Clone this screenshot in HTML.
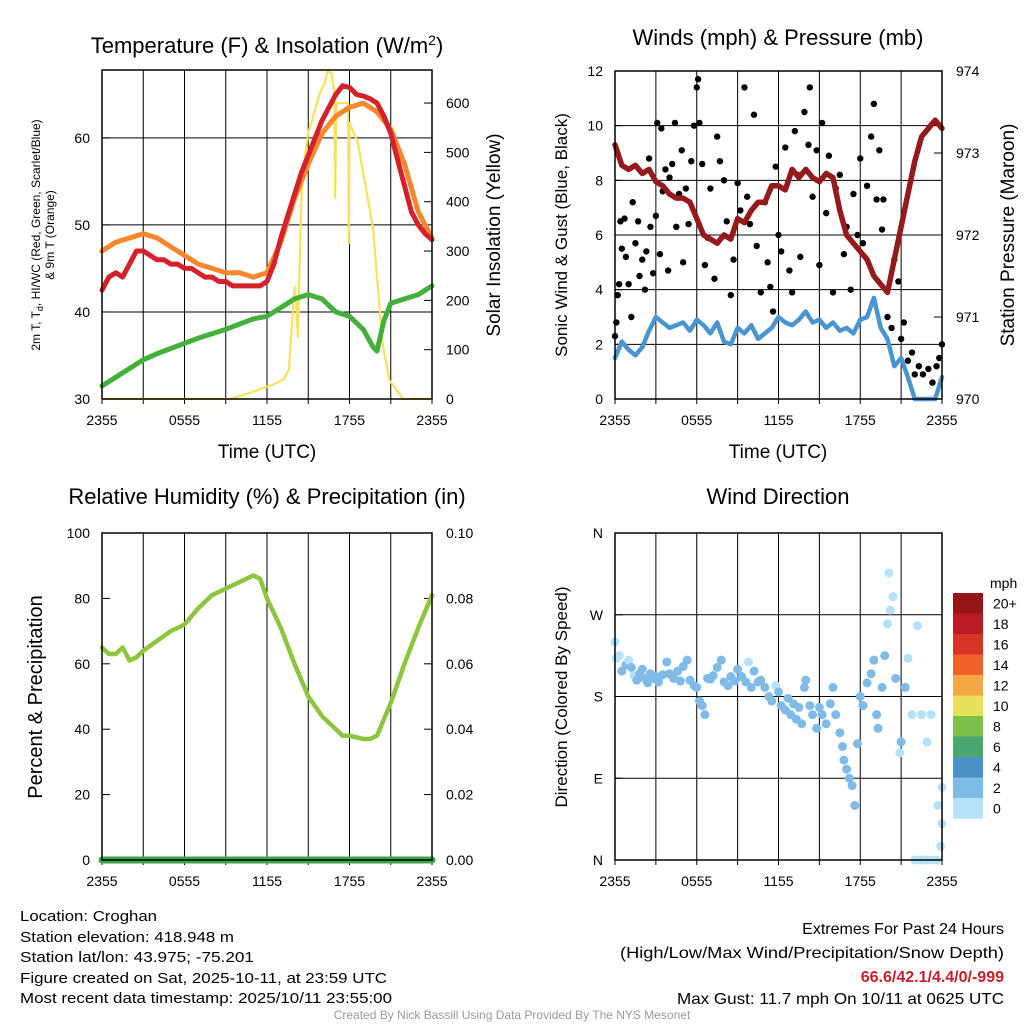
<!DOCTYPE html>
<html><head><meta charset="utf-8"><style>
html,body{margin:0;padding:0;background:#fff;}
svg{display:block;font-family:"Liberation Sans",sans-serif;}
</style></head><body>
<svg id="chart" width="1024" height="1024" viewBox="0 0 1024 1024" xmlns="http://www.w3.org/2000/svg">
<rect width="1024" height="1024" fill="#fff"/>
<g id="p1"></g>
<g id="p2"></g>
<g id="p3"></g>
<g id="p4"></g>

<text x="267" y="53" font-size="22" text-anchor="middle">Temperature (F) &amp; Insolation (W/m<tspan dy="-8" font-size="14">2</tspan><tspan dy="8">)</tspan></text>
<text x="778" y="45" font-size="22" text-anchor="middle">Winds (mph) &amp; Pressure (mb)</text>
<text x="267" y="504" font-size="22" text-anchor="middle">Relative Humidity (%) &amp; Precipitation (in)</text>
<text x="778" y="504" font-size="22" text-anchor="middle">Wind Direction</text>

<text transform="translate(40,235) rotate(-90)" font-size="12" text-anchor="middle">2m T, T<tspan dy="3" font-size="9">d</tspan><tspan dy="-3">, HI/WC (Red, Green, Scarlet/Blue)</tspan></text>
<text transform="translate(54,235) rotate(-90)" font-size="12" text-anchor="middle">&amp; 9m T (Orange)</text>
<text transform="translate(500,235) rotate(-90)" font-size="19" text-anchor="middle">Solar Insolation (Yellow)</text>
<text transform="translate(567,235) rotate(-90)" font-size="17" text-anchor="middle">Sonic Wind &amp; Gust (Blue, Black)</text>
<text transform="translate(1014,235) rotate(-90)" font-size="19" text-anchor="middle">Station Pressure (Maroon)</text>
<text transform="translate(42,697) rotate(-90)" font-size="20" text-anchor="middle">Percent &amp; Precipitation</text>
<text transform="translate(567,697) rotate(-90)" font-size="17" text-anchor="middle">Direction (Colored By Speed)</text>
<text x="267" y="458" font-size="19" text-anchor="middle">Time (UTC)</text>
<text x="778" y="458" font-size="19" text-anchor="middle">Time (UTC)</text>

<g font-size="15">
<text x="20" y="921" textLength="137" lengthAdjust="spacingAndGlyphs">Location: Croghan</text>
<text x="20" y="942" textLength="214" lengthAdjust="spacingAndGlyphs">Station elevation: 418.948 m</text>
<text x="20" y="962" textLength="234" lengthAdjust="spacingAndGlyphs">Station lat/lon: 43.975; -75.201</text>
<text x="20" y="983" textLength="367" lengthAdjust="spacingAndGlyphs">Figure created on Sat, 2025-10-11, at 23:59 UTC</text>
<text x="20" y="1003" textLength="372" lengthAdjust="spacingAndGlyphs">Most recent data timestamp: 2025/10/11 23:55:00</text>
</g>
<g font-size="16" text-anchor="end">
<text x="1004" y="934">Extremes For Past 24 Hours</text>
<text x="1004" y="958" textLength="384" lengthAdjust="spacingAndGlyphs">(High/Low/Max Wind/Precipitation/Snow Depth)</text>
<text x="1004" y="982" fill="#c8202a" font-weight="bold">66.6/42.1/4.4/0/-999</text>
<text x="1004" y="1004" textLength="327" lengthAdjust="spacingAndGlyphs">Max Gust: 11.7 mph On 10/11 at 0625 UTC</text>
</g>
<text x="512" y="1019" font-size="12" fill="#999" text-anchor="middle">Created By Nick Bassill Using Data Provided By The NYS Mesonet</text>
</svg>
<script>
// ---- data ----
const xTickLabels = ["2355","0555","1155","1755","2355"];
const tempHours = [0,0.5,1,1.5,2,2.5,3,3.5,4,4.5,5,5.5,6,6.5,7,7.5,8,8.5,9,9.5,10,10.5,11,11.5,12,12.5,13,13.5,14,14.5,15,15.5,16,16.5,17,17.5,18,18.5,19,19.5,20,20.5,21,21.5,22,22.5,23,23.5,24];
const tempF = [42.5,44,44.5,44,45.5,47,47,46.5,46,46,45.5,45.5,45,45,44.5,44,44,43.5,43.5,43,43,43,43,43,43.5,45.5,48.5,51,53.5,56,58,60,62,63.5,65,66,65.8,65,64.8,64.5,64,62.5,60.5,57.5,54.5,51.5,50,49,48.3];
const hourly = [0,1,2,3,4,5,6,7,8,9,10,11,12,13,14,15,16,17,18,19,20,21,22,23,24];
const temp9m = [47,48,48.5,49,48.5,47.5,46.5,45.5,45,44.5,44.5,44,44.5,48,53,57,60.5,62.5,63.5,64,63,61,57,51.5,48.5];
const dewHours = [0,1,2,3,4,5,6,7,8,9,10,11,12,13,14,15,16,17,18,19,19.7,20,20.5,21,22,23,24];
const dewF = [31.5,32.5,33.5,34.5,35.2,35.8,36.4,37,37.5,38,38.6,39.2,39.5,40.5,41.5,42,41.5,40,39.5,38,36,35.5,39,41,41.5,42,43];
const solarHours = [0,9.3,10.5,11.5,12.5,13.2,13.6,13.8,14.0,14.1,14.25,14.4,14.55,15.0,15.85,16.2,16.4,16.7,16.9,16.95,17.05,17.2,17.9,17.95,18.0,18.6,19.7,20.4,20.9,21.9,24];
const solarW = [0,0,10,20,30,40,60,150,227,200,126,300,450,540,620,640,665,660,620,408,600,600,600,316,560,520,349,113,38,0,0];
const windHours = [0,0.5,1,1.5,2,2.5,3,3.5,4,4.5,5,5.5,6,6.5,7,7.5,8,8.5,9,9.5,10,10.5,11,11.5,12,12.5,13,13.5,14,14.5,15,15.5,16,16.5,17,17.5,18,18.5,19,19.5,20,20.5,21,21.5,22,22.5,23,23.5,24];
const windMph = [1.5,2.1,1.8,1.6,1.9,2.5,3.0,2.8,2.6,2.7,2.8,2.5,2.9,2.7,2.4,2.8,2.1,2.0,2.6,2.4,2.7,2.2,2.4,2.6,3.0,2.8,2.7,2.9,3.2,2.8,2.9,2.6,2.8,2.5,2.6,2.4,2.9,3.0,3.7,2.6,2.2,1.2,1.5,0.8,0.0,0.0,0.0,0.0,0.8];
const pressMb = [973.1,972.85,972.8,972.85,972.75,972.8,972.65,972.6,972.5,972.45,972.45,972.4,972.2,972.0,971.95,971.9,972.0,971.95,972.2,972.15,972.3,972.4,972.4,972.6,972.6,972.55,972.8,972.7,972.8,972.7,972.65,972.75,972.7,972.3,972.0,971.9,971.8,971.7,971.5,971.4,971.3,971.7,972.1,972.5,972.9,973.2,973.3,973.4,973.3];
const gustHours = [0,0.1,0.2,0.3,0.4,0.5,0.7,0.8,1,1.2,1.3,1.5,1.7,1.8,2,2.2,2.3,2.5,2.6,2.8,3,3.1,3.3,3.4,3.5,3.7,3.9,4,4.2,4.4,4.5,4.7,4.9,5,5.2,5.4,5.6,5.8,6,6.1,6.2,6.4,6.6,6.8,7,7.3,7.5,7.7,8,8.2,8.5,8.7,9,9.2,9.5,9.7,9.9,10.2,10.4,10.7,11,11.2,11.4,11.6,11.8,12,12.2,12.5,12.8,13,13.2,13.4,13.6,13.9,14.2,14.3,14.5,14.8,15,15.2,15.5,15.7,16,16.2,16.5,16.8,17,17.3,17.5,17.8,18,18.2,18.5,18.8,19,19.2,19.4,19.6,19.7,20,20.3,20.5,20.8,21,21.2,21.5,21.8,22,22.3,22.6,23,23.3,23.6,23.8,24];
const gustMph = [2.3,2.8,3.8,4.2,6.5,5.5,6.6,5.2,4.2,3.0,7.2,5.7,6.5,4.5,5.1,4.0,5.4,8.8,6.3,4.6,6.7,10.1,5.3,9.9,7.6,8.4,4.7,8.1,8.6,10.1,6.3,7.5,9.1,5.0,7.7,6.4,8.7,10.0,11.4,11.7,10.1,8.6,4.9,5.9,7.7,4.4,9.6,8.7,8.0,6.5,3.8,5.1,7.9,6.9,11.4,7.4,6.4,10.4,5.6,3.9,7.2,5.0,4.1,3.2,8.5,6.0,5.4,9.2,4.7,3.9,9.8,8.2,5.2,10.5,9.3,11.4,7.4,9.1,4.9,10.1,6.8,8.9,3.9,7.7,8.2,5.3,6.3,4.0,7.5,6.0,8.8,5.7,7.8,9.6,10.8,7.3,9.1,6.2,7.3,3.0,2.6,5.1,4.3,2.2,2.8,1.4,1.7,0.9,1.2,0.9,1.1,0.6,1.2,1.5,2.0];
const rhHours = [0,0.5,1,1.5,2,2.5,3,4,5,6,7,8,9,10,11,11.5,12,13,14,15,16,17,17.5,18,19,19.5,20,21,22,23,24];
const rhPct = [65,63,63,65,61,62,64,67,70,72,77,81,83,85,87,86,80,71,60,50,44,40,38,38,37,37,38,48,60,71,81];
const dirHours = [0,0.1,0.3,0.5,0.8,1,1.2,1.4,1.6,1.8,2,2.2,2.4,2.6,2.8,3,3.2,3.5,3.8,4,4.3,4.6,4.8,5,5.3,5.5,5.8,6,6.2,6.4,6.6,6.8,7,7.2,7.5,7.8,8,8.3,8.5,8.8,9,9.3,9.6,9.8,10,10.2,10.5,10.7,11,11.3,11.5,11.8,12,12.2,12.5,12.7,12.9,13.1,13.3,13.5,13.7,13.9,14,14.3,14.5,14.8,15,15.2,15.5,15.8,16,16.2,16.5,16.7,16.8,17,17.2,17.4,17.6,17.8,18,18.2,18.5,18.8,19,19.2,19.3,19.6,19.8,20,20.1,20.2,20.4,20.6,20.9,21,21.3,21.5,21.8,22.2,22.5,22.9,23.2,23.6,22,22.4,22.8,23.2,23.9,24,24,23.7];
const dirDeg = [240,222,225,208,215,220,212,203,198,205,210,200,195,205,200,202,196,204,218,205,200,208,197,213,220,198,192,190,175,170,160,200,199,203,212,220,196,192,202,197,210,202,196,218,190,208,196,198,190,180,175,192,185,170,165,178,160,172,155,168,150,190,198,170,160,145,168,160,150,172,190,160,140,125,110,100,90,82,60,128,180,170,195,205,220,160,145,190,225,260,316,275,290,200,118,130,190,222,160,258,160,130,160,0,0,0,0,0,15,40,80,60];
const dirSpd = [1,1,1,2,2,1,2,1,2,2,2,2,2,2,2,2,2,2,2,2,2,2,2,2,2,2,2,2,2,2,2,2,2,2,2,2,2,2,2,2,2,2,2,1,2,2,2,2,2,2,2,1,2,2,2,3,2,2,2,2,2,3,2,2,2,2,2,2,2,2,2,2,2,2,2,2,2,2,2,2,2,2,2,3,2,2,2,2,2,1,1,1,1,2,1,2,2,1,1,1,1,1,1,1,1,1,1,1,1,1,1,1];
const cbarLabels = ["20+","18","16","14","12","10","8","6","4","2","0"];
const cbarColors = ["#951518","#bb1c24","#da3327","#f06229","#f7a645","#e6e05a","#7cc04b","#49a770","#4a91c8","#7fbbe6","#b5e2f8"];
const tempTicks = [30,40,50,60];
const solarTicks = [0,100,200,300,400,500,600];
const windTicks = [0,2,4,6,8,10,12];
const pressTicks = [970,971,972,973,974];
const rhTicks = [0,20,40,60,80,100];
const precipTicks = ["0.00","0.02","0.04","0.06","0.08","0.10"];
const dirTicks = ["N","E","S","W","N"];

const NS="http://www.w3.org/2000/svg";
function mk(parent,tag,attrs){const e=document.createElementNS(NS,tag);for(const k in attrs)e.setAttribute(k,attrs[k]);parent.appendChild(e);return e;}
function lin(d0,d1,r0,r1){return v=>r0+(v-d0)/(d1-d0)*(r1-r0);}

function frame(g,L,R,T,B,xs,name){
  for(let h=3;h<24;h+=3){const l=mk(g,'line',{x1:xs(h),x2:xs(h),y1:T,y2:B,stroke:'#000','stroke-width':1});
    
    }
  for(let h=0;h<=24;h+=3){const tl=mk(g,'line',{x1:xs(h),x2:xs(h),y1:B,y2:B+5,stroke:'#000'});
    
    }
  xTickLabels.forEach((t,i)=>{const x=xs(i*6);
    const tx=mk(g,'text',{x:x,y:B+26,'font-size':14,'text-anchor':'middle'});tx.textContent=t;
    
    });
}
function hgrid(g,L,R,y,name){const l=mk(g,'line',{x1:L,x2:R,y1:y,y2:y,stroke:'#000','stroke-width':1});
  
  }
function box(g,L,R,T,B,name){const r=mk(g,'rect',{x:L,y:T,width:R-L,height:B-T,fill:'none',stroke:'#000','stroke-width':1.5});
  
  }
function yLab(g,edge,y,t,side,name){
  const left=side==='left';
  const tx=mk(g,'text',{x:left?edge-12:edge+14,y:y+5,'font-size':14,'text-anchor':left?'end':'start'});tx.textContent=t;
  
  
  const tl=mk(g,'line',{x1:left?edge:edge-8,x2:left?edge+8:edge,y1:y,y2:y,stroke:'#000'});
  
  }
function path(g,xs,ys,X,Y,style,name){let d='';X.forEach((h,i)=>{d+=(i?'L':'M')+xs(h).toFixed(1)+','+ys(Y[i]).toFixed(1);});
  const p=mk(g,'path',Object.assign({d:d,fill:'none','stroke-linejoin':'round','stroke-linecap':'round'},style));
  
  return p;}

// Panel 1
(function(){const g=document.getElementById('p1');const L=102,R=432,T=70,B=399;
  const xs=lin(0,24,L,R),ys=lin(30,67.8,B,T),ss=lin(0,667,B,T);
  frame(g,L,R,T,B,xs,'temp');
  tempTicks.forEach(v=>{if(v>30)hgrid(g,L,R,ys(v),'temp');yLab(g,L,ys(v),String(v),'left','temp-y-tick-label');});
  solarTicks.forEach(v=>yLab(g,R,ss(v),String(v),'right','solar-y-tick-label'));
  path(g,xs,ss,solarHours,solarW,{stroke:'#fbe15a','stroke-width':2.2},'solar-insolation-line');
  path(g,xs,ys,dewHours,dewF,{stroke:'#44b03c','stroke-width':5},'dewpoint-line');
  path(g,xs,ys,hourly,temp9m,{stroke:'#f7872c','stroke-width':5},'temp-9m-line');
  path(g,xs,ys,tempHours,tempF,{stroke:'#d4212a','stroke-width':5},'temp-2m-line');
  box(g,L,R,T,B,'temp');})();

// Panel 2
(function(){const g=document.getElementById('p2');const L=615,R=942,T=71,B=399;
  const xs=lin(0,24,L,R),ys=lin(0,12,B,T),ps=lin(970,974,B,T);
  frame(g,L,R,T,B,xs,'wind');
  windTicks.forEach(v=>{if(v>0&&v<12)hgrid(g,L,R,ys(v),'wind');yLab(g,L,ys(v),String(v),'left','wind-y-tick-label');});
  pressTicks.forEach(v=>yLab(g,R,ps(v),String(v),'right','pressure-y-tick-label'));
  gustHours.forEach((h,i)=>{const c=mk(g,'circle',{cx:xs(h),cy:ys(gustMph[i]),r:3.2,fill:'#000'});
    
    });
  path(g,xs,ys,windHours,windMph,{stroke:'#4a95d0','stroke-width':4.5},'sonic-wind-line');
  path(g,xs,ps,windHours,pressMb,{stroke:'#951a1c','stroke-width':5.5},'pressure-line');
  box(g,L,R,T,B,'wind');})();

// Panel 3
(function(){const g=document.getElementById('p3');const L=102,R=432,T=533,B=860;
  const xs=lin(0,24,L,R),ys=lin(0,100,B,T);
  frame(g,L,R,T,B,xs,'rh');
  rhTicks.forEach((v,i)=>{yLab(g,L,ys(v),String(v),'left','rh-y-tick-label');yLab(g,R,ys(v),precipTicks[i],'right','precip-y-tick-label');});
  path(g,xs,ys,rhHours,rhPct,{stroke:'#8cc63f','stroke-width':4.5},'relative-humidity-line');
  path(g,xs,ys,[0,24],[0,0],{stroke:'#3aa64a','stroke-width':7},'precipitation-line');
  box(g,L,R,T,B,'rh');})();

// Panel 4
(function(){const g=document.getElementById('p4');const L=615,R=942,T=533,B=860;
  const xs=lin(0,24,L,R),ys=lin(0,360,B,T);
  frame(g,L,R,T,B,xs,'dir');
  dirTicks.forEach((t,i)=>{const v=i*90;if(i>0&&i<4)hgrid(g,L,R,ys(v),'dir');yLab(g,L,ys(v),t,'left','dir-y-tick-label');});
  dirHours.forEach((h,i)=>{const s=dirSpd[i];const col=s<2?cbarColors[10]:(s<4?cbarColors[9]:cbarColors[8]);
    const c=mk(g,'circle',{cx:xs(h),cy:ys(dirDeg[i]),r:4.5,fill:col});
    
    });
  box(g,L,R,T,B,'dir');
  const cb=mk(g,'g',{});
  
  
  const t0=593,bh=20.5;
  const u=mk(cb,'text',{x:990,y:588,'font-size':14});u.textContent='mph';
  
  
  cbarColors.forEach((c,i)=>{const r=mk(cb,'rect',{x:953,y:t0+i*bh,width:30,height:bh+0.3,fill:c});
    
    
    const tx=mk(cb,'text',{x:993,y:t0+i*bh+bh/2+5,'font-size':14});tx.textContent=cbarLabels[i];
    
    });})();
</script>
</body></html>
